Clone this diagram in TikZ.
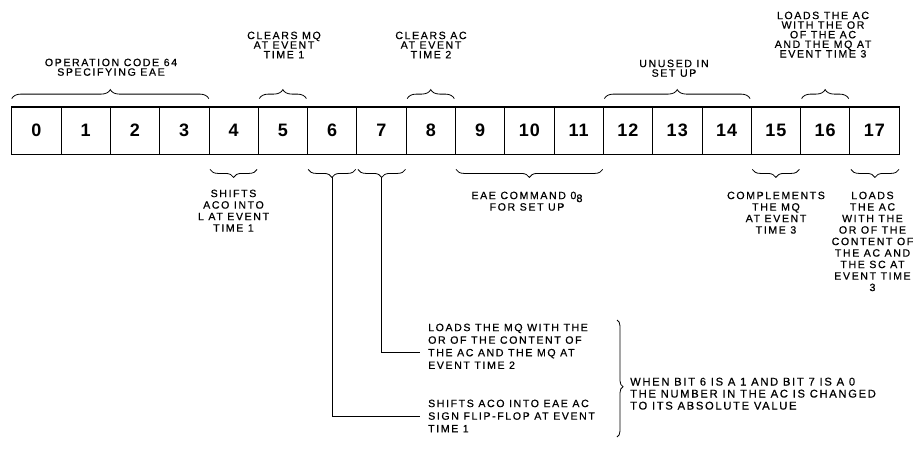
\documentclass[tikz,border=0pt]{standalone}
\usepackage{fontspec}
\setmainfont{Liberation Sans}[LetterSpace=15,FakeBold=0.6]
\newfontfamily\digitfont{Liberation Sans}[LetterSpace=6]
\usetikzlibrary{decorations.pathreplacing,calc}
\begin{document}
\begin{tikzpicture}[x=1pt,y=1pt,
  cell/.style={draw,line width=0.8pt,minimum width=49.3pt,minimum height=47pt,inner sep=0pt,
    font=\digitfont\bfseries\fontsize{18}{18}\selectfont},
  bup/.style={decorate,decoration={brace,amplitude=9pt},line width=0.8pt},
  bdown/.style={decorate,decoration={brace,amplitude=8pt,mirror},line width=0.8pt},
  bbig/.style={decorate,decoration={brace,amplitude=6pt,aspect=0.57},line width=0.8pt},
  toplbl/.style={align=center,inner sep=0pt,anchor=north,font=\fontsize{10.6}{9.6}\selectfont},
  botlbl/.style={align=center,inner sep=0pt,anchor=north,font=\fontsize{10.6}{11.5}\selectfont},
  lowlbl/.style={align=left,inner sep=0pt,anchor=north west,font=\fontsize{10.6}{12.6}\selectfont},
  conn/.style={line width=0.8pt}]
\useasboundingbox (0,0) rectangle (915,-448);
% register
\foreach \i in {0,...,17} \node[cell] (c\i) at ({11.7+49.3*\i+24.65},-130.5) {\i};
\draw[line width=1.5pt] (c0.north west) rectangle (c17.south east);
% top braces
\draw[bup] ([shift={(0.5,8)}]c0.north west) -- ([shift={(-0.5,8)}]c3.north east);
\draw[bup] ([shift={(1.5,8)}]c5.north west) -- ([shift={(-1.5,8)}]c5.north east);
\draw[bup] ([shift={(1.5,8)}]c8.north west) -- ([shift={(-1.5,8)}]c8.north east);
\draw[bup] ([shift={(1.5,8)}]c12.north west) -- ([shift={(-1.5,8)}]c14.north east);
\draw[bup] ([shift={(1.5,8)}]c16.north west) -- ([shift={(-1.5,8)}]c16.north east);
% bottom braces
\draw[bdown] ([shift={(1.5,-15)}]c4.south west) -- ([shift={(-1.5,-15)}]c4.south east);
\draw[bdown] ([shift={(1,-15)}]c6.south west) -- ([shift={(-1.5,-15)}]c6.south east);
\draw[bdown] ([shift={(1.5,-15)}]c7.south west) -- ([shift={(-1,-15)}]c7.south east);
\draw[bdown] ([shift={(1,-15)}]c9.south west) -- ([shift={(-1,-15)}]c11.south east);
\draw[bdown] ([shift={(1.5,-15)}]c15.south west) -- ([shift={(-1.5,-15)}]c15.south east);
\draw[bdown] ([shift={(1.5,-15)}]c17.south west) -- ([shift={(-0.5,-15)}]c17.south east);
% top labels
\node[toplbl] (lop) at (111,-58.5) {OPERATION CODE 64\\SPECIFYING EAE};
\node[toplbl] (lmq) at (284,-31.5) {CLEARS MQ\\AT EVENT\\TIME 1};
\node[toplbl] (lac) at (431,-31.5) {CLEARS AC\\AT EVENT\\TIME 2};
\node[toplbl] (lun) at (674,-59.5) {UNUSED IN\\SET UP};
\node[toplbl] (lld) at (823,-11.5) {LOADS THE AC\\WITH THE OR\\OF THE AC\\AND THE MQ AT\\EVENT TIME 3};
% bottom labels
\node[botlbl] (lsh) at (233.5,-189.5) {SHIFTS\\ACO INTO\\L AT EVENT\\TIME 1};
\node[botlbl] (leae) at (527,-191.5) {EAE COMMAND 0\raisebox{-3pt}{\fontsize{11}{11}\selectfont 8}\\FOR SET UP};
\node[botlbl] (lcm) at (776,-191.5) {COMPLEMENTS\\THE MQ\\AT EVENT\\TIME 3};
\node[botlbl] (lsc) at (872.5,-191.5) {LOADS\\THE AC\\WITH THE\\OR OF THE\\CONTENT OF\\THE AC AND\\THE SC AT\\EVENT TIME\\3};
% lower labels
\node[lowlbl] (t7) at (428,-323.5) {LOADS THE MQ WITH THE\\OR OF THE CONTENT OF\\THE AC AND THE MQ AT\\EVENT TIME 2};
\node[lowlbl] (t6) at (428,-399.5) {SHIFTS ACO INTO EAE AC\\SIGN FLIP-FLOP AT EVENT\\TIME 1};
\node[lowlbl,font=\fontsize{11.2}{12}\selectfont] (tw) at (630,-377.5) {WHEN BIT 6 IS A 1 AND BIT 7 IS A 0\\THE NUMBER IN THE AC IS CHANGED\\TO ITS ABSOLUTE VALUE};
% connectors
\draw[conn] ([yshift=-23pt]c6.south) |- ([xshift=-8pt]t6.west);
\draw[conn] ([yshift=-23pt]c7.south) |- ([xshift=-8pt,yshift=-6.3pt]t7.west);
\draw[bbig] (617,-320) -- (617,-437);
\end{tikzpicture}
\end{document}
